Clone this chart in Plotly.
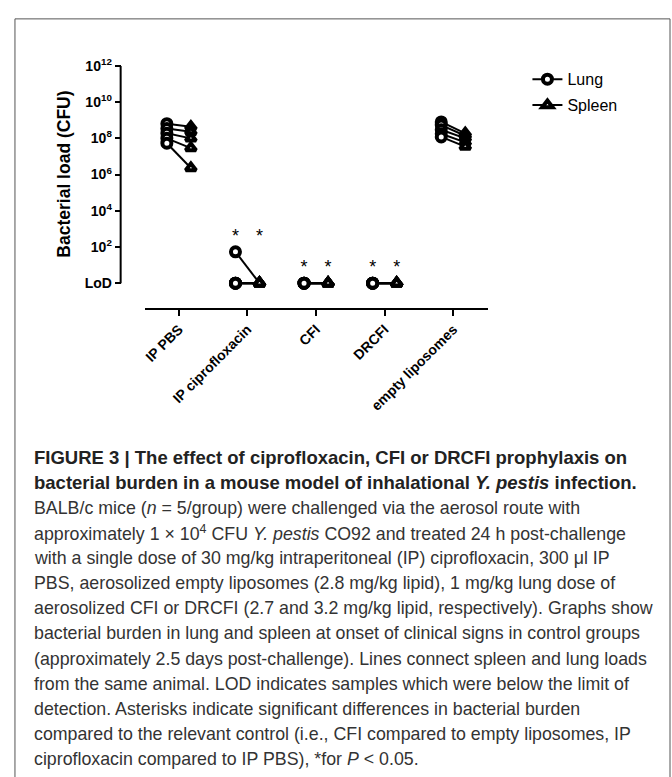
import numpy as np
import plotly.graph_objects as go

W, H = 672, 777

# ---------------- data ----------------
groups = ["IP PBS", "IP ciprofloxacin", "CFI", "DRCFI", "empty liposomes"]
# CFU per animal; None = below limit of detection (LoD)
lung = [
    [6.5e8, 3.5e8, 1.9e8, 1.0e8, 5.4e7],
    [54, None, None, None, None],
    [None, None, None, None, None],
    [None, None, None, None, None],
    [8.1e8, 5.4e8, 3.0e8, 1.8e8, 1.2e8],
]
spleen = [
    [4.4e8, 2.3e8, 1.0e8, 2.9e7, 2.3e6],
    [None, None, None, None, None],
    [None, None, None, None, None],
    [None, None, None, None, None],
    [1.9e8, 1.4e8, 1.0e8, 6.0e7, 3.5e7],
]
significant = [False, True, True, True, False]
ytick_vals = [0, 2, 4, 6, 8, 10, 12]
ytick_text = ["LoD", "10<sup>2</sup>", "10<sup>4</sup>", "10<sup>6</sup>",
              "10<sup>8</sup>", "10<sup>10</sup>", "10<sup>12</sup>"]

caption_lines = [
    "<b>FIGURE 3 | The effect of ciprofloxacin, CFI or DRCFI prophylaxis on</b>",
    "<b>bacterial burden in a mouse model of inhalational <i>Y. pestis</i> infection.</b>",
    "BALB/c mice (<i>n</i> = 5/group) were challenged via the aerosol route with",
    "approximately 1 × 10<sup>4</sup> CFU <i>Y. pestis</i> CO92 and treated 24 h post-challenge",
    "with a single dose of 30 mg/kg intraperitoneal (IP) ciprofloxacin, 300 μl IP",
    "PBS, aerosolized empty liposomes (2.8 mg/kg lipid), 1 mg/kg lung dose of",
    "aerosolized CFI or DRCFI (2.7 and 3.2 mg/kg lipid, respectively). Graphs show",
    "bacterial burden in lung and spleen at onset of clinical signs in control groups",
    "(approximately 2.5 days post-challenge). Lines connect spleen and lung loads",
    "from the same animal. LOD indicates samples which were below the limit of",
    "detection. Asterisks indicate significant differences in bacterial burden",
    "compared to the relevant control (i.e., CFI compared to empty liposomes, IP",
    "ciprofloxacin compared to IP PBS), *for <i>P</i> &lt; 0.05.",
]

# ---------------- helpers ----------------
def to_log(v):
    return 0.0 if v is None else float(np.log10(v))

OFF = 0.175  # lung left / spleen right of category
FONT = "Liberation Sans, Arial, sans-serif"

fig = go.Figure()

# connecting lines (one per animal)
for gi, g in enumerate(groups):
    for a in range(len(lung[gi])):
        fig.add_trace(go.Scatter(
            x=[gi - OFF, gi + OFF],
            y=[to_log(lung[gi][a]), to_log(spleen[gi][a])],
            mode="lines", line=dict(color="black", width=2),
            showlegend=False, hoverinfo="skip", cliponaxis=False))

lx, ly, sx, sy = [], [], [], []
for gi, g in enumerate(groups):
    for v in lung[gi]:
        lx.append(gi - OFF); ly.append(to_log(v))
    for v in spleen[gi]:
        sx.append(gi + OFF); sy.append(to_log(v))

mk = dict(color="white", size=9, line=dict(color="black", width=4))
fig.add_trace(go.Scatter(x=lx, y=ly, mode="markers", showlegend=False,
                         marker=dict(symbol="circle", **mk), cliponaxis=False))
fig.add_trace(go.Scatter(x=sx, y=sy, mode="markers", showlegend=False,
                         marker=dict(symbol="triangle-up", **mk), cliponaxis=False))

# legend entries
fig.add_trace(go.Scatter(x=[None], y=[None], mode="lines+markers", name="Lung",
                         legendgroup="a",
                         line=dict(color="black", width=2),
                         marker=dict(symbol="circle", **mk)))
fig.add_trace(go.Scatter(x=[None], y=[None], mode="lines+markers", name="Spleen",
                         legendgroup="b",
                         line=dict(color="black", width=2),
                         marker=dict(symbol="triangle-up", **mk)))

# asterisks
ax_, ay_ = [], []
for gi, g in enumerate(groups):
    if significant[gi]:
        top = max([to_log(v) for v in lung[gi]] + [to_log(v) for v in spleen[gi]])
        for side in (-OFF, OFF):
            ax_.append(gi + side); ay_.append(top + 0.8)
fig.add_trace(go.Scatter(x=ax_, y=ay_, mode="text", text=["*"] * len(ax_),
                         textposition="middle center", showlegend=False,
                         textfont=dict(size=18, color="black", family=FONT),
                         cliponaxis=False))

# ---------------- layout ----------------
def px_x(p): return p / W
def px_y(p): return 1 - p / H

y0_px, y12_px, xaxis_px = 276.7, 56.7, 301.7
ppu = (y0_px - y12_px) / 12.0
ymin = -(xaxis_px - y0_px) / ppu

fig.update_layout(
    width=W, height=H, margin=dict(l=0, r=0, t=0, b=0),
    paper_bgcolor="white", plot_bgcolor="white",
    font=dict(family=FONT, color="black"),
    xaxis=dict(domain=[px_x(143), px_x(487)], range=[-0.5, 4.5],
               tickvals=list(range(len(groups))), ticktext=groups,
               tickangle=-45, showline=True, linecolor="black", linewidth=2,
               ticks="outside", ticklen=6, tickwidth=2, tickcolor="black",
               showgrid=False, zeroline=False,
               tickfont=dict(size=14, family=FONT, weight="bold", color="black")),
    yaxis=dict(domain=[px_y(xaxis_px), px_y(y12_px)], range=[ymin, 12],
               anchor="free", position=px_x(119),
               tickvals=ytick_vals, ticktext=ytick_text,
               showline=False, ticks="outside", ticklen=6, tickwidth=2,
               tickcolor="black", showgrid=False, zeroline=False,
               tickfont=dict(size=14, family=FONT, weight="bold", color="black")),
    showlegend=True,
    legend=dict(x=px_x(527), y=px_y(53), xanchor="left", yanchor="top",
                bgcolor="rgba(0,0,0,0)", itemwidth=30, tracegroupgap=2,
                traceorder="grouped",
                font=dict(size=16, family=FONT, color="black")),
)

# y axis line (from LoD to 10^12)
fig.add_shape(type="line", xref="paper", yref="y", x0=px_x(119), x1=px_x(119),
              y0=ytick_vals[0], y1=ytick_vals[-1],
              line=dict(color="black", width=2))

# y-axis title
fig.add_annotation(text="<b>Bacterial load (CFU)</b>", xref="paper", yref="paper",
                   x=px_x(62), y=px_y(166), textangle=-90, showarrow=False,
                   font=dict(size=17.5, family=FONT, color="black"),
                   xanchor="center", yanchor="middle")

# frame
fig.add_shape(type="rect", xref="paper", yref="paper",
              x0=px_x(13), x1=px_x(670), y0=px_y(790), y1=px_y(9),
              line=dict(color="#555555", width=1))

# caption
for i, t in enumerate(caption_lines):
    fig.add_annotation(text=t, xref="paper", yref="paper",
                       x=px_x(30), y=px_y(453 + i * 25.5),
                       xanchor="left", yanchor="middle", showarrow=False,
                       align="left",
                       font=dict(size=18.5 if i < 2 else 17.8, family=FONT,
                                 color="#222222" if i < 2 else "#333333"))

fig.write_html("out.html")
